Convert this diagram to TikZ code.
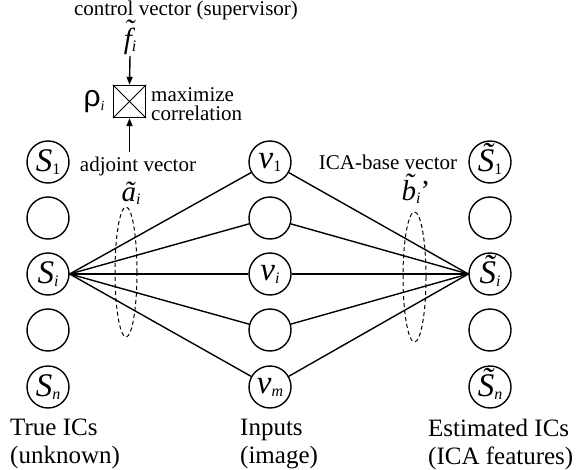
\documentclass[tikz,border=0pt]{standalone}
\usepackage{fontspec}
\setmainfont{Liberation Serif}
\newfontfamily\rhofont{Liberation Sans}
\usetikzlibrary{positioning, arrows.meta}

\newcommand{\icsym}[2]{\textit{#1}\raisebox{-3pt}{\fontsize{16}{16}\selectfont #2}}
% letter with a tilde: shift, lift, letter
\newcommand{\tld}[3]{\ooalign{#3\cr\hidewidth\kern#1\raisebox{#2}{\char"02DC}\hidewidth\cr}}

\begin{document}
\begin{tikzpicture}[x=1pt, y=-1pt,
    unit/.style={circle, draw, line width=1.4pt, minimum size=42pt, inner sep=0pt,
      font=\rmfamily\fontsize{33}{33}\selectfont},
    lbl/.style={inner sep=0pt, font=\rmfamily\fontsize{21}{19}\selectfont},
    sym/.style={inner sep=0pt, font=\rmfamily\fontsize{29}{29}\selectfont},
    caption/.style={inner sep=0pt, align=left, anchor=north west,
      font=\rmfamily\fontsize{25}{27.5}\selectfont},
    wire/.style={line width=1.4pt},
    feed/.style={line width=1.4pt, -{Triangle[length=8pt, width=6pt]}},
    group/.style={line width=1pt, dash pattern=on 4pt off 3pt}
  ]
  \useasboundingbox (0,0) rectangle (588,470);

  % true ICs
  \node[unit] (s1) at (48,162) {\icsym{S}{1}};
  \node[unit] (s2) at (48,218) {};
  \node[unit] (si) at (48,274) {\icsym{S}{\textit{i}}};
  \node[unit] (s4) at (48,330) {};
  \node[unit] (sn) at (48,387) {\icsym{S}{\textit{n}}};

  % inputs
  \node[unit] (v1) at (270,162) {\icsym{v}{1}};
  \node[unit] (v2) at (270,218) {};
  \node[unit] (vi) at (270,274) {\icsym{v}{\textit{i}}};
  \node[unit] (v4) at (270,330) {};
  \node[unit] (vm) at (270,387) {\icsym{v}{\textit{m}}};

  % estimated ICs
  \node[unit] (e1) at (490,162) {\icsym{\tld{2pt}{6pt}{S}}{1}};
  \node[unit] (e2) at (490,218) {};
  \node[unit] (ei) at (490,274) {\icsym{\tld{2pt}{6pt}{S}}{\textit{i}}};
  \node[unit] (e4) at (490,330) {};
  \node[unit] (en) at (490,387) {\icsym{\tld{2pt}{6pt}{S}}{\textit{n}}};

  \foreach \v in {v1,v2,vi,v4,vm}
    \draw[wire] (si.east) -- (\v) (\v) -- (ei.west);

  % correlation unit
  \node[lbl] (ctrl) at (186,10) {control vector (supervisor)};
  \node[sym] (f) at (130,40) {\icsym{\tld{3pt}{9pt}{f}}{\textit{i}}};
  \node[draw, line width=1.4pt, minimum size=32pt, inner sep=0pt] (corr) at (129.5,101.5) {};
  \draw[line width=1pt] (corr.north west) -- (corr.south east)
    (corr.north east) -- (corr.south west);
  \node[inner sep=0pt, font=\fontsize{30}{30}\selectfont, left=8pt of corr] (rho)
    {{\rhofont ρ}\raisebox{-4pt}{\fontsize{14}{14}\selectfont\textit{i}}};
  \node[lbl, align=left, anchor=west] (maxc) at (151,104) {maximize\\correlation};
  \node[lbl] (adj) at (138,166) {adjoint vector};
  \draw[feed] (f.south) ++(0,4) -- (corr.north);
  \draw[feed] (corr.south |- adj.north) ++(0,-4) -- (corr.south);

  % base vectors
  \node[sym] (a) at (131,196) {\icsym{\tld{1pt}{0pt}{a}}{\textit{i}}};
  \draw[group] (126,272) ellipse [x radius=11, y radius=65];
  \node[lbl] (ica) at (388,162) {ICA-base vector};
  \node[sym] (b) at (416,192) {\icsym{\tld{0pt}{7pt}{b}}{\textit{i}}’};
  \draw[group] (414.5,277) ellipse [x radius=11.5, y radius=65];

  % captions
  \node[caption] (tc) at (10,419) {True ICs\\(unknown)};
  \node[caption] (in) at (240,419) {Inputs\\(image)};
  \node[caption] (ec) at (428,419) {Estimated ICs\\(ICA features)};
\end{tikzpicture}
\end{document}
